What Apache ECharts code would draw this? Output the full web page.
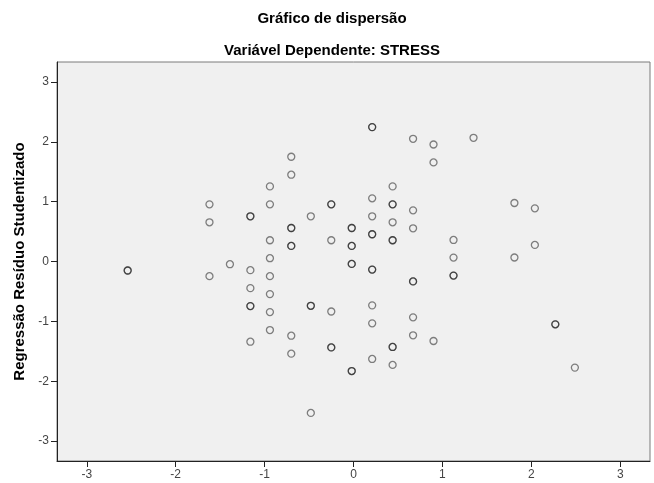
<!DOCTYPE html>
<html><head><meta charset="utf-8">
<script src="https://cdn.jsdelivr.net/npm/echarts@6/dist/echarts.min.js"></script>
<style>html,body{margin:0;padding:0;background:#fff}#c{width:654px;height:483px}</style>
</head><body><div id="c"></div>
<script>
const titleText = "Gráfico de dispersão";
const subtitleText = "Variável Dependente: STRESS";
const xAxisTicks = [-3, -2, -1, 0, 1, 2, 3];
const yAxisTicks = [-3, -2, -1, 0, 1, 2, 3];
const yAxisName = "Regressão Resíduo Studentizado";
// Regression standardized predicted value (x) vs studentized residual (y); repeated pairs overlap
const xValues = [
  -2.54, -2.54,
  -1.62, -1.62, -1.62,
  -1.39,
  -1.16, -1.16, -1.16, -1.16, -1.16, -1.16, -1.16,
  -0.94, -0.94, -0.94, -0.94, -0.94, -0.94, -0.94, -0.94,
  -0.70, -0.70, -0.70, -0.70, -0.70, -0.70, -0.70, -0.70,
  -0.48, -0.48, -0.48, -0.48,
  -0.25, -0.25, -0.25, -0.25, -0.25, -0.25,
  -0.02, -0.02, -0.02, -0.02, -0.02, -0.02, -0.02, -0.02,
  0.21, 0.21, 0.21, 0.21, 0.21, 0.21, 0.21, 0.21, 0.21, 0.21, 0.21,
  0.44, 0.44, 0.44, 0.44, 0.44, 0.44, 0.44, 0.44, 0.44,
  0.67, 0.67, 0.67, 0.67, 0.67, 0.67, 0.67,
  0.90, 0.90, 0.90,
  1.125, 1.125, 1.125, 1.125,
  1.35,
  1.81, 1.81,
  2.04, 2.04,
  2.27, 2.27,
  2.49
];
const yValues = [
  -0.15, -0.15,
  0.955, 0.655, -0.245,
  -0.045,
  0.755, 0.755, -0.145, -0.445, -0.745, -0.745, -1.34,
  1.255, 0.955, 0.355, 0.055, -0.245, -0.545, -0.845, -1.145,
  1.75, 1.45, 0.56, 0.56, 0.26, 0.26, -1.24, -1.54,
  0.755, -0.74, -0.74, -2.53,
  0.955, 0.955, 0.355, -0.835, -1.435, -1.435,
  0.56, 0.56, 0.26, 0.26, -0.04, -0.04, -1.83, -1.83,
  2.245, 2.245, 1.055, 0.755, 0.455, 0.455, -0.135, -0.135, -0.733, -1.033, -1.628,
  1.255, 0.955, 0.955, 0.655, 0.355, 0.355, -1.428, -1.428, -1.728,
  2.05, 0.855, 0.555, -0.333, -0.333, -0.933, -1.233,
  1.955, 1.655, -1.328,
  0.36, 0.065, -0.235, -0.235,
  2.067,
  0.977, 0.067,
  0.888, 0.277,
  -1.05, -1.05,
  -1.773
];
const points = xValues.map((x, i) => [x, yValues[i]]);

const font = "'Liberation Sans', Arial, sans-serif";
const chart = echarts.init(document.getElementById('c'), null, {renderer: 'canvas'});
chart.setOption({
  animation: false,
  backgroundColor: '#ffffff',
  title: [
    {text: titleText, left: 327, top: 6, textAlign: 'center',
     textStyle: {fontFamily: font, fontSize: 15, fontWeight: 'bold', color: '#000'}},
    {text: subtitleText, left: 327, top: 38, textAlign: 'center',
     textStyle: {fontFamily: font, fontSize: 15, fontWeight: 'bold', color: '#000'}}
  ],
  grid: {left: 57, right: 4, top: 62, bottom: 22, show: true,
         backgroundColor: '#f0f0f0', borderColor: '#7a7a7a', borderWidth: 1},
  xAxis: {
    type: 'value', min: -3.335, max: 3.335,
    axisLine: {show: true, onZero: false, lineStyle: {color: '#222', width: 1}},
    axisTick: {show: true, length: 6, customValues: xAxisTicks, lineStyle: {color: '#222'}},
    axisLabel: {customValues: xAxisTicks, color: '#444', fontFamily: font, fontSize: 12, margin: 8},
    splitLine: {show: false}
  },
  yAxis: {
    type: 'value', min: -3.333, max: 3.333,
    name: yAxisName, nameLocation: 'middle', nameGap: 26,
    nameTextStyle: {fontFamily: font, fontSize: 15, fontWeight: 'bold', color: '#000'},
    axisLine: {show: true, onZero: false, lineStyle: {color: '#222', width: 1}},
    axisTick: {show: true, length: 6, customValues: yAxisTicks, lineStyle: {color: '#222'}},
    axisLabel: {customValues: yAxisTicks, color: '#444', fontFamily: font, fontSize: 12, margin: 8},
    splitLine: {show: false}
  },
  series: [{
    type: 'scatter', data: points, symbol: 'circle', symbolSize: 7,
    itemStyle: {color: 'rgba(0,0,0,0)', borderColor: 'rgba(0,0,0,0.6)', borderWidth: 1.3}
  }]
});
</script></body></html>
